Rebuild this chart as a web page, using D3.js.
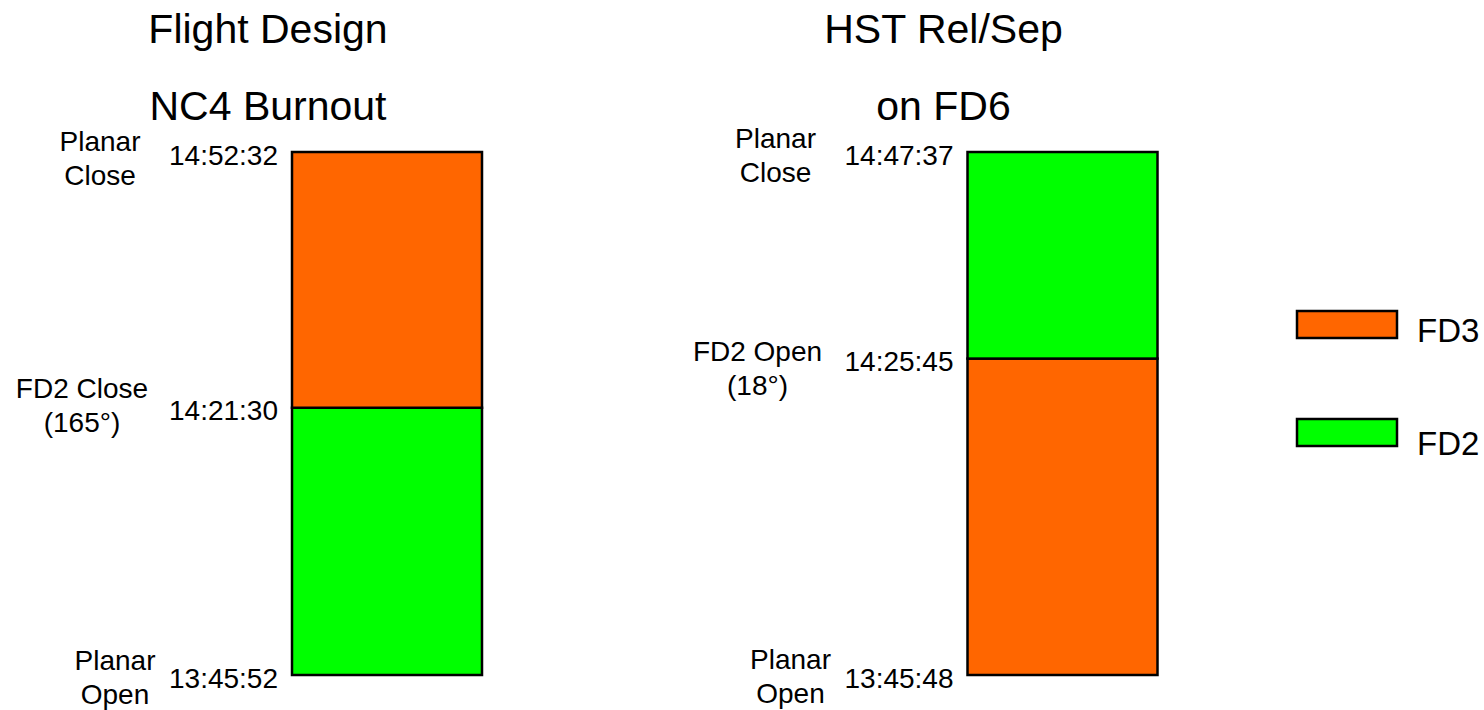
<!DOCTYPE html>
<html>
<head>
<meta charset="utf-8">
<script src="https://cdn.jsdelivr.net/npm/d3@7"></script>
<style>
  html, body { margin: 0; padding: 0; background: #fff; }
  svg { display: block; font-family: "Liberation Sans", Arial, sans-serif; }
</style>
</head>
<body>
<svg id="chart" width="1484" height="710"></svg>
<script>
// ---- data ----
const categories = ["Flight Design|NC4 Burnout", "HST Rel/Sep|on FD6"];
// share of each bar's height (percent), bottom segment then top segment
const lowerSeries = ["FD2", "FD3"];
const lowerValues = [51.1, 60.5];
const upperSeries = ["FD3", "FD2"];
const upperValues = [48.9, 39.5];
// boundary labels, bottom -> middle -> top
const timeLabels = [
  ["13:45:52", "14:21:30", "14:52:32"],
  ["13:45:48", "14:25:45", "14:47:37"]
];
const eventLabels = [
  ["Planar|Open", "FD2 Close|(165°)", "Planar|Close"],
  ["Planar|Open", "FD2 Open|(18°)", "Planar|Close"]
];
const legendSeries = ["FD3", "FD2"];
const colors = { FD3: "#FF6600", FD2: "#00FF00" };

// ---- layout ----
const svg = d3.select("#chart");
const x = d3.scalePoint().domain(categories).range([387, 1062.5]);
const y = d3.scaleLinear().domain([0, 100]).range([675, 152]);
const barW = 190;

// per-bar vertical nudges of event text (bottom, middle, top), and x offsets
const eventDy = [[-5, -10, -1], [-6, 2, -4]];
const eventDx = [-178, -196, -163].reverse(); // bottom, middle, top
const lineGap = 34;

categories.forEach((cat, i) => {
  const cx = x(cat);
  const left = cx - barW / 2;
  const segs = [
    { s: lowerSeries[i], y0: 0, y1: lowerValues[i] },
    { s: upperSeries[i], y0: lowerValues[i], y1: lowerValues[i] + upperValues[i] }
  ];
  const g = svg.append("g");
  g.selectAll("rect").data(segs).join("rect")
    .attr("x", left)
    .attr("width", barW)
    .attr("y", d => y(d.y1))
    .attr("height", d => y(d.y0) - y(d.y1))
    .attr("fill", d => colors[d.s])
    .attr("stroke", "#000")
    .attr("stroke-width", 2.5);

  // title
  const tl = cat.split("|");
  g.append("text").attr("x", cx - 119).attr("y", 43)
    .attr("text-anchor", "middle").attr("font-size", 41).text(tl[0]);
  g.append("text").attr("x", cx - 119).attr("y", 120)
    .attr("text-anchor", "middle").attr("font-size", 41).text(tl[1]);

  // time axis
  const tickVals = [0, lowerValues[i], lowerValues[i] + upperValues[i]];
  const axis = d3.axisLeft(y).tickValues(tickVals).tickSize(0).tickPadding(14)
    .tickFormat((d, k) => timeLabels[i][k]);
  const ax = g.append("g").attr("transform", `translate(${left},0)`).call(axis);
  ax.select(".domain").remove();
  ax.selectAll("text").attr("font-size", 28).attr("font-family", "Liberation Sans, Arial, sans-serif")
    .attr("fill", "#000").attr("dy", "0.43em");

  // event labels
  const tickRight = left - 14;
  tickVals.forEach((v, k) => {
    const lines = eventLabels[i][k].split("|");
    const t = g.append("text")
      .attr("text-anchor", "middle")
      .attr("font-size", 28)
      .attr("x", tickRight + eventDx[k])
      .attr("y", y(v) + eventDy[i][k]);
    lines.forEach((ln, j) => {
      t.append("tspan").attr("x", tickRight + eventDx[k])
        .attr("dy", j === 0 ? 0 : lineGap).text(ln);
    });
  });
});

// legend
const legY = d3.scalePoint().domain(legendSeries).range([311, 419]);
const lg = svg.append("g");
lg.selectAll("rect").data(legendSeries).join("rect")
  .attr("x", 1297).attr("y", d => legY(d)).attr("width", 100).attr("height", 27)
  .attr("fill", d => colors[d]).attr("stroke", "#000").attr("stroke-width", 2.5);
lg.selectAll("text").data(legendSeries).join("text")
  .attr("x", 1417).attr("y", (d, k) => legY(d) + (k === 0 ? 31 : 36))
  .attr("font-size", 33).text(d => d);
</script>
</body>
</html>
